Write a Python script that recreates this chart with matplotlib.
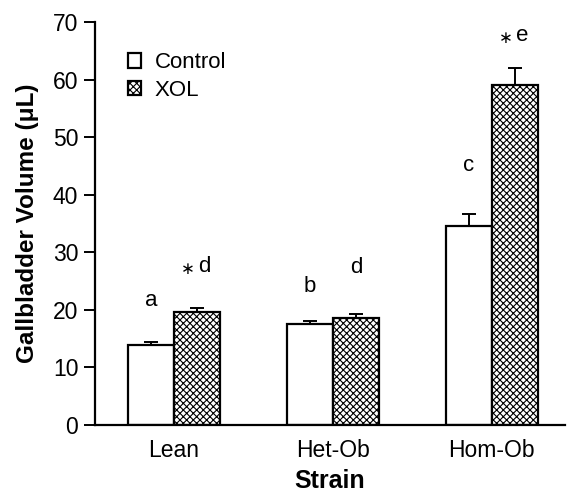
import numpy as np
import matplotlib
matplotlib.use('Agg')
import matplotlib.pyplot as plt

plt.rcParams['font.family'] = ['Liberation Sans', 'DejaVu Sans']
plt.rcParams['hatch.linewidth'] = 0.8

strains = ['Lean', 'Het-Ob', 'Hom-Ob']
control = [13.9, 17.5, 34.5]
control_err = [0.6, 0.5, 2.1]
xol = [19.6, 18.6, 59.0]
xol_err = [0.7, 0.7, 3.0]
# significance letters and the height (in uL) at which they sit
control_marks = ['a', 'b', 'c']
control_mark_y = [21.7, 24.0, 45.1]
xol_marks = ['d', 'd', 'e']
xol_star = [True, False, True]
xol_mark_y = [27.6, 27.4, 67.7]

fig = plt.figure(figsize=(5.67, 4.95), dpi=100)
ax = fig.add_axes([0.1675, 0.1414, 0.829, 0.814])

x = np.arange(len(strains))
w = 0.29

ax.bar(x - w/2, control, w, color='white', edgecolor='black', linewidth=1.6,
       label='Control', zorder=2)
ax.bar(x + w/2, xol, w, color='white', edgecolor='black', linewidth=1.6,
       hatch='xxxxx', label='XOL', zorder=2)
ax.errorbar(x - w/2, control, yerr=[np.zeros(3), control_err], fmt='none',
            ecolor='black', elinewidth=1.4, capsize=5, capthick=1.4, zorder=1)
ax.errorbar(x + w/2, xol, yerr=[np.zeros(3), xol_err], fmt='none',
            ecolor='black', elinewidth=1.4, capsize=5, capthick=1.4, zorder=1)

for i in range(3):
    ax.text(x[i] - w/2, control_mark_y[i], control_marks[i],
            ha='center', va='center', fontsize=16, clip_on=False)
    if xol_star[i]:
        ax.annotate(xol_marks[i], (x[i] + w/2, xol_mark_y[i]),
                    xytext=(5, 0), textcoords='offset points',
                    ha='center', va='center', fontsize=16, annotation_clip=False)
        ax.annotate('\u2217', (x[i] + w/2, xol_mark_y[i]),
                    xytext=(-6.5, -2), textcoords='offset points',
                    ha='center', va='center', fontsize=12,
                    family='DejaVu Sans', annotation_clip=False)
    else:
        ax.text(x[i] + w/2, xol_mark_y[i], xol_marks[i],
                ha='center', va='center', fontsize=16, clip_on=False)

ax.set_xlim(-0.497, 2.46)
ax.set_ylim(0, 70)
ax.set_yticks(range(0, 71, 10))
ax.set_xticks(x)
ax.set_xticklabels(strains)
ax.tick_params(axis='x', length=0, labelsize=16.5, pad=10)
ax.tick_params(axis='y', direction='out', length=8, width=1.4, labelsize=16.5, pad=4)
for s in ['top', 'right']:
    ax.spines[s].set_visible(False)
for s in ['left', 'bottom']:
    ax.spines[s].set_linewidth(1.6)

ax.set_xlabel('Strain', fontsize=18, fontweight='bold', labelpad=5)
ax.set_ylabel('Gallbladder Volume (\u03bcL)', fontsize=17.5, fontweight='bold', labelpad=10)

ax.legend(loc='upper left', bbox_to_anchor=(0.07, 0.925), frameon=False,
          borderpad=0, borderaxespad=0,
          fontsize=16, handlelength=0.6, handleheight=0.6, handletextpad=0.6,
          labelspacing=0.3)

fig.savefig('out.png', dpi=100)
